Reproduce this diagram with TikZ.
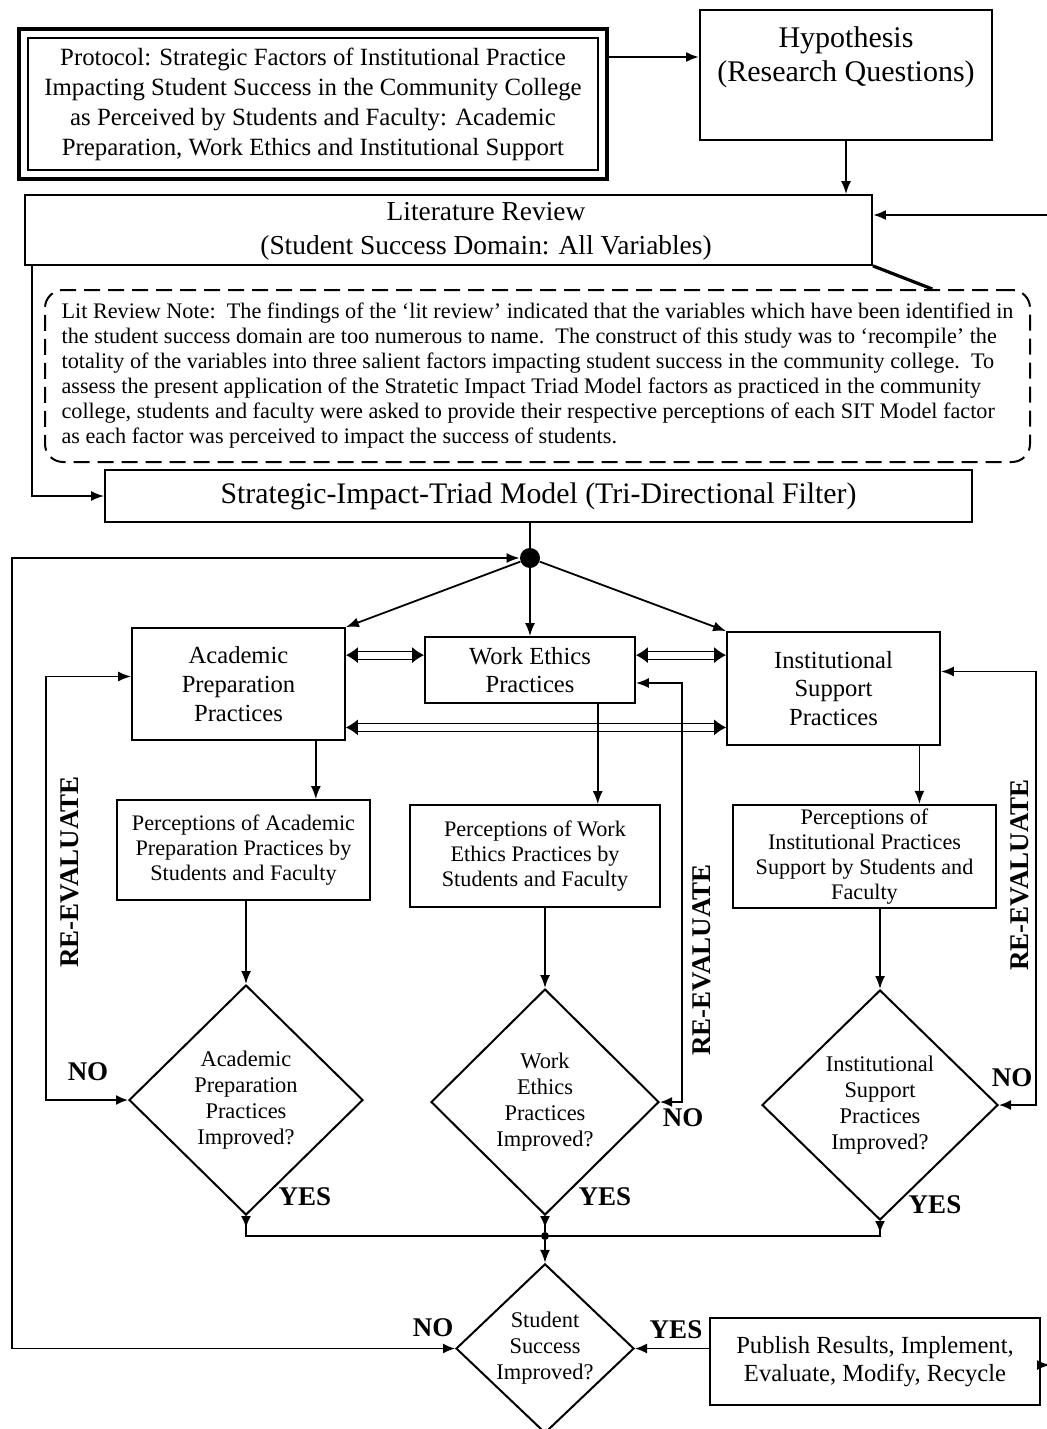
\documentclass[tikz,border=0pt]{standalone}
\usepackage{fontspec}
\setmainfont{Liberation Serif}
\usetikzlibrary{shapes.geometric,arrows.meta,positioning,fit,calc}

\newcommand{\fproto}{\fontsize{12.4}{15}\selectfont}
\newcommand{\fhyp}{\fontsize{15}{17}\selectfont}
\newcommand{\flit}{\fontsize{13.7}{17}\selectfont}
\newcommand{\fnote}{\fontsize{11.1}{12.5}\selectfont}
\newcommand{\fsit}{\fontsize{14.9}{17}\selectfont}
\newcommand{\fpract}{\fontsize{12.3}{14.3}\selectfont}
\newcommand{\fperc}{\fontsize{11.1}{12.5}\selectfont}
\newcommand{\fdia}{\fontsize{11.2}{13}\selectfont}
\newcommand{\fpub}{\fontsize{12.3}{14}\selectfont}
\newcommand{\fyn}{\fontsize{13.5}{15}\selectfont\bfseries}

\begin{document}
\begin{tikzpicture}[
  x=0.5pt, y=-0.5pt,
  box/.style={rectangle, draw, line width=0.9pt, align=center, inner sep=2pt},
  dia/.style={diamond, draw, line width=1pt, align=center, inner sep=0pt, font=\fdia},
  arrow/.style={-{Latex[length=6.5pt,width=5pt]}, line width=0.9pt},
  link/.style={line width=0.9pt},
  twoway/.style={double, double distance=3.5pt, line width=0.5pt,
                 {Latex[length=6pt,width=8pt]}-{Latex[length=6pt,width=8pt]}},
  noloop/.style={{Latex[length=6pt,width=5pt]}-{Latex[length=6.5pt,width=5pt]}, line width=0.9pt},
  tipin/.style={{Latex[length=6pt,width=5pt]}-, line width=0.9pt},
  yesdrop/.style={{Latex[length=6pt,width=5pt,reversed]}-, line width=0.9pt},
  yn/.style={font=\fyn},
  reeval/.style={font=\fyn, rotate=90},
  hub/.style={circle, fill, inner sep=0pt, minimum size=#1}
]
  \useasboundingbox (0,0) rectangle (1047,1429);

  % ── protocol and hypothesis ──
  \node[box, minimum width=285pt, minimum height=66pt, font=\fproto] (proto) at (313,104)
    {Protocol: Strategic Factors of Institutional Practice\\
     Impacting Student Success in the Community College\\
     as Perceived by Students and Faculty: Academic\\
     Preparation, Work Ethics and Institutional Support};
  \node[draw, line width=2pt, fit=(proto), inner sep=4pt] (protoframe) {};
  \node[box, minimum width=146pt, minimum height=65pt] (hyp) at (846,75) {};
  \node[font=\fhyp, align=center] (hyptext) at (846,57) {Hypothesis\\(Research Questions)};
  \draw[arrow, line width=1.2pt] (protoframe.east |- hyptext) -- (hyp.west |- hyptext);

  % ── literature review ──
  \node[box, minimum width=423.5pt, minimum height=35pt] (lit) at (448.5,230) {};
  \node[font=\flit, align=center] (littext) at (486,231)
    {Literature Review\\(Student Success Domain: All Variables)};
  \draw[arrow] (hyp.south) -- (hyp.south |- lit.north);
  \coordinate (litin) at (1047,215);
  \draw[arrow, line width=1.2pt] (litin) -- (litin -| lit.east);

  \node[draw, line width=1pt, dash pattern=on 8pt off 4pt, rounded corners=9pt,
        minimum width=492.5pt, minimum height=86pt, inner xsep=6pt, align=left,
        font=\fnote] (note) at (537.5,376)
    {Lit Review Note:\ \ The findings of the `lit review' indicated that the variables which have been identified in\\
     the student success domain are too numerous to name.\ \ The construct of this study was to `recompile' the\\
     totality of the variables into three salient factors impacting student success in the community college.\ \ To\\
     assess the present application of the Stratetic Impact Triad Model factors as practiced in the community\\
     college, students and faculty were asked to provide their respective perceptions of each SIT Model factor\\
     as each factor was perceived to impact the success of students.};
  \draw[line width=1.6pt] (lit.south east) -- ($(note.north west)!0.9!(note.north east)$);

  % ── triad model ──
  \node[box, minimum width=433.5pt, minimum height=26pt, font=\fsit] (sit) at (538.5,496)
    {Strategic-Impact-Triad Model (Tri-Directional Filter)};
  \draw[arrow] ([xshift=4pt]lit.south west) |- (sit.west);
  \node[hub=10pt] (hub) at (530,558) {};
  \draw[link] (sit.south -| hub) -- (hub);

  % ── practices ──
  \node[box, minimum width=106.5pt, minimum height=56pt, font=\fpract] (ap) at (238.5,684)
    {Academic\\Preparation\\Practices};
  \node[box, minimum width=105pt, minimum height=33pt, font=\fpract] (we) at (530,670)
    {Work Ethics\\Practices};
  \node[box, minimum width=106.5pt, minimum height=56.5pt, font=\fpract] (is) at (833.5,688.5)
    {Institutional\\Support\\Practices};
  \draw[arrow] (hub) -- (ap.north east);
  \draw[arrow] (hub) -- (we.north);
  \draw[arrow] (hub) -- (is.north west);
  \draw[twoway] (we.172 -| ap.east) -- (we.172);
  \draw[twoway] (we.8) -- (we.8 -| is.west);
  \draw[twoway] (ap.-22) -- (ap.-22 -| is.west);

  % ── perceptions ──
  \node[box, minimum width=126.5pt, minimum height=50pt, font=\fperc] (pap) at (243.5,850)
    {Perceptions of Academic\\Preparation Practices by\\Students and Faculty};
  \node[box, minimum width=125pt, minimum height=51pt, font=\fperc] (pwe) at (535,856)
    {Perceptions of Work\\Ethics Practices by\\Students and Faculty};
  \node[box, minimum width=131.5pt, minimum height=51.5pt, font=\fperc] (pis) at (864.5,856.5)
    {Perceptions of\\Institutional Practices\\Support by Students and\\Faculty};
  \coordinate (apd) at ($(ap.south west)!0.86!(ap.south east)$);
  \coordinate (wed) at ($(we.south west)!0.82!(we.south east)$);
  \coordinate (isd) at ($(is.south west)!0.9!(is.south east)$);
  \draw[arrow] (apd) -- (apd |- pap.north);
  \draw[arrow] (wed) -- (wed |- pwe.north);
  \draw[arrow] (isd) -- (isd |- pis.north);

  % ── decisions ──
  \node[dia, minimum width=117pt, minimum height=115pt] (dap) at (246,1100)
    {Academic\\Preparation\\Practices\\Improved?};
  \node[dia, minimum width=114pt, minimum height=113pt] (dwe) at (545,1102)
    {Work\\Ethics\\Practices\\Improved?};
  \node[dia, minimum width=118pt, minimum height=115pt] (dis) at (880,1105)
    {Institutional\\Support\\Practices\\Improved?};
  \draw[arrow] (pap.south -| dap.north) -- (dap.north);
  \draw[arrow] (pwe.south -| dwe.north) -- (dwe.north);
  \draw[arrow] (pis.south -| dis.north) -- (dis.north);

  \draw[noloop] (dap.west) -- ++(-82,0) |- (ap.176);
  \draw[noloop] (dwe.east) -- ++(22,0) |- (we.-7);
  \draw[noloop] (dis.east) -- ++(37,0) |- (is.9);
  \node[yn] (noap) at (88,1072) {NO};
  \node[yn] (nowe) at (683,1118) {NO};
  \node[yn] (nois) at (1012,1078) {NO};
  \node[reeval] (reap) at (70,872) {RE-EVALUATE};
  \node[reeval] (rewe) at (702,960) {RE-EVALUATE};
  \node[reeval] (reis) at (1020,875) {RE-EVALUATE};

  \node[hub=4pt] (yj) at ($(dwe.south)+(0,20)$) {};
  \draw[yesdrop] (dap.south) |- (yj);
  \draw[yesdrop] (dis.south) |- (yj);
  \draw[yesdrop] (dwe.south) -- (yj);
  \node[yn] (yesap) at (305,1197) {YES};
  \node[yn] (yeswe) at (605,1197) {YES};
  \node[yn] (yesis) at (935,1205) {YES};

  % ── student success ──
  \node[dia, minimum width=89pt, minimum height=80.5pt] (dss) at (545,1348.5)
    {Student\\Success\\Improved?};
  \draw[arrow] (yj) -- (dss.north);
  \coordinate (farleft) at (12,0);
  \draw[noloop] (dss.west) -- (dss.west -| farleft) |- (hub.west);
  \node[yn] (noss) at (433,1328) {NO};
  \node[yn] (yesss) at (676,1330) {YES};

  \node[box, minimum width=165pt, minimum height=43.5pt, font=\fpub] (pub) at (875,1361.5)
    {Publish Results, Implement,\\Evaluate, Modify, Recycle};
  \draw[tipin] (dss.east) -- (dss.east -| pub.west);
  \coordinate (pubout) at (1050,1365);
  \draw[arrow] (pub.east |- pubout) -- (pubout);
\end{tikzpicture}
\end{document}
